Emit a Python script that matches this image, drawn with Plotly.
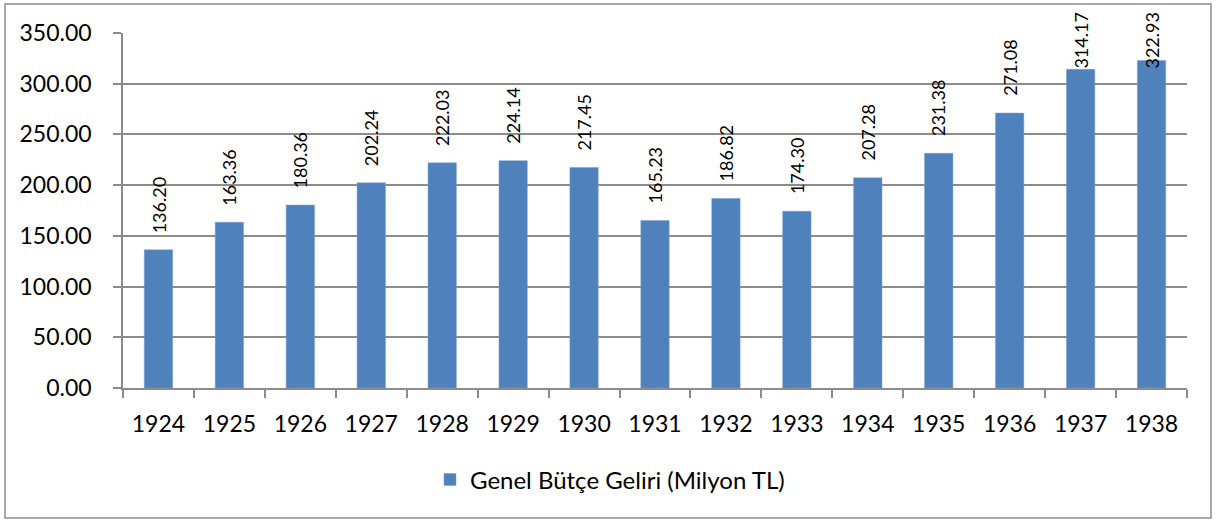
import plotly.graph_objects as go

years = ["1924", "1925", "1926", "1927", "1928", "1929", "1930", "1931",
         "1932", "1933", "1934", "1935", "1936", "1937", "1938"]
revenue = [136.20, 163.36, 180.36, 202.24, 222.03, 224.14, 217.45, 165.23,
           186.82, 174.30, 207.28, 231.38, 271.08, 314.17, 322.93]
series_name = "Genel Bütçe Geliri (Milyon TL)"
y_ticks = [0, 50, 100, 150, 200, 250, 300, 350]

FONT = "Lato, 'Open Sans', sans-serif"
L, R, T, B = 123, 29, 33, 133
W, H = 1216, 521
pw, ph = W - L - R, H - T - B
px_per_unit = ph / 350.0

fig = go.Figure()
fig.add_trace(go.Bar(
    x=years, y=revenue, name=series_name,
    marker=dict(color="#4f81bd", line=dict(color="#7a9fd0", width=0.5)),
    width=0.4, showlegend=True,
))

# data labels, rotated, above bars, clamped near the top
max_bottom = (388 - 71) / px_per_unit
for i, v in enumerate(revenue):
    yb = min(v + 15 / px_per_unit, max_bottom)
    fig.add_annotation(x=i, y=yb, text=f"{v:.2f}", textangle=-90,
                       showarrow=False, yanchor="bottom", xanchor="center",
                       font=dict(family=FONT, size=18, color="#000000"))

def pxx(p):
    return (p - L) / pw

def pxy(p):
    return (H - B - p) / ph

fig.add_shape(type="rect", xref="paper", yref="paper",
              x0=pxx(5), x1=pxx(1211), y0=pxy(518), y1=pxy(4),
              line=dict(color="#8c8c8c", width=1.5), fillcolor="rgba(0,0,0,0)",
              layer="below")

fig.update_layout(
    width=W, height=H,
    margin=dict(l=L, r=R, t=T, b=B),
    paper_bgcolor="white", plot_bgcolor="white",
    font=dict(family=FONT, size=23, color="#000000"),
    legend=dict(orientation="h", x=pxx(430), xanchor="left",
                y=pxy(480), yanchor="middle",
                font=dict(family=FONT, size=24), itemwidth=30),
    xaxis=dict(type="category", range=[-0.5, len(years) - 0.5],
               showline=True, linecolor="#8c8c8c", linewidth=1.5,
               ticks="outside", tickson="boundaries", ticklen=8, tickcolor="#8c8c8c",
               tickwidth=1.5, showgrid=False, ticklabelstandoff=15, tickangle=0,
               tickfont=dict(family=FONT, size=23)),
    yaxis=dict(range=[0, 350], tickvals=y_ticks,
               ticktext=[f"{t:.2f}" for t in y_ticks],
               showline=True, linecolor="#8c8c8c", linewidth=1.5,
               ticks="outside", ticklen=8, tickcolor="#8c8c8c", tickwidth=1.5,
               showgrid=True, gridcolor="#8c8c8c", gridwidth=1.5,
               zeroline=False, ticklabelstandoff=17,
               tickfont=dict(family=FONT, size=23)),
    bargap=0.6,
)

fig.write_html("out.html", config={"displayModeBar": False},
               post_script="document.body.style.margin='0';document.body.style.overflow='hidden';")
